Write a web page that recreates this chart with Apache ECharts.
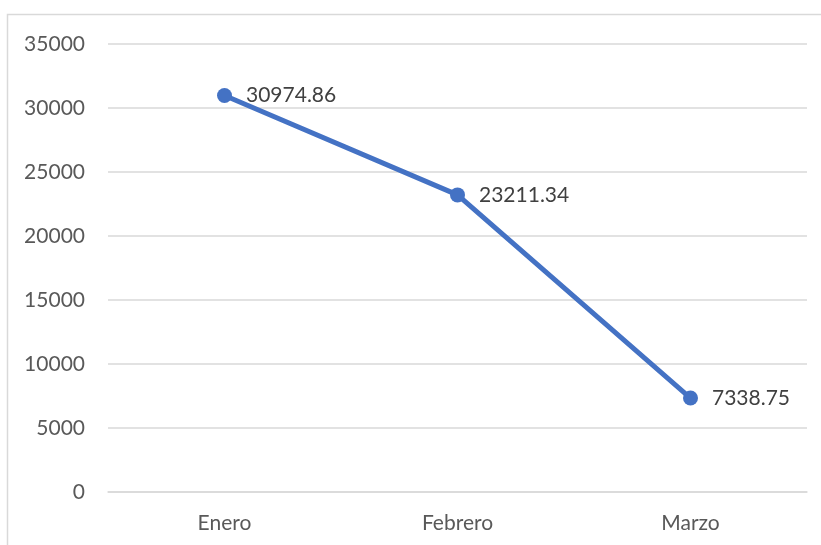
<!DOCTYPE html>
<html>
<head>
<meta charset="utf-8">
<script src="https://cdn.jsdelivr.net/npm/echarts@6/dist/echarts.min.js"></script>
<style>
  html, body { margin: 0; padding: 0; background: #fff; }
  #chart { width: 821px; height: 545px; }
</style>
</head>
<body>
<div id="chart"></div>
<script>
const categories = ["Enero", "Febrero", "Marzo"];
const values = [30974.86, 23211.34, 7338.75];
const yMin = 0;
const yMax = 35000;
const yStep = 5000;

const chart = echarts.init(document.getElementById("chart"));

const font = "Lato, 'Open Sans', sans-serif";

const option = {
  animation: false,
  textStyle: { fontFamily: font },
  graphic: [
    {
      type: "rect",
      shape: { x: 7.5, y: 14.5, width: 900, height: 600 },
      style: { fill: "none", stroke: "#d9d9d9", lineWidth: 1.5 },
      silent: true,
    },
  ],
  grid: { left: 108, right: 14, top: 44, bottom: 53 },
  xAxis: {
    type: "category",
    data: categories,
    axisLine: { show: true, lineStyle: { color: "#d9d9d9", width: 1.5 } },
    axisTick: { show: false },
    axisLabel: { color: "#595959", fontSize: 21, margin: 21, fontFamily: font },
  },
  yAxis: {
    type: "value",
    min: yMin,
    max: yMax,
    interval: yStep,
    axisLine: { show: false },
    axisTick: { show: false },
    splitLine: { lineStyle: { color: "#d9d9d9", width: 1.5 } },
    axisLabel: {
      color: "#595959",
      fontSize: 21,
      margin: 23,
      fontFamily: font,
      formatter: (v) => String(v),
    },
  },
  series: [
    {
      type: "line",
      data: values,
      symbol: "circle",
      symbolSize: 15,
      lineStyle: { color: "#4472C4", width: 5 },
      itemStyle: { color: "#4472C4" },
      label: {
        show: true,
        position: "right",
        distance: 14,
        color: "#404040",
        fontSize: 21,
        fontFamily: font,
        formatter: (p) => p.value.toFixed(2),
      },
    },
  ],
};

chart.setOption(option);
window.addEventListener("resize", () => {
  chart.resize();
});
</script>
</body>
</html>
